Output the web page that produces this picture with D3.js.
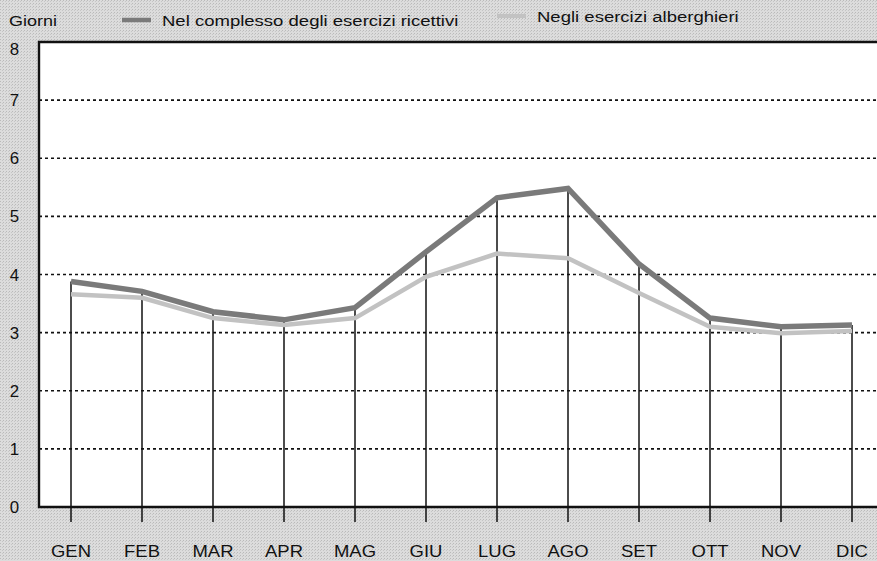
<!DOCTYPE html>
<html><head><meta charset="utf-8">
<script src="https://cdn.jsdelivr.net/npm/d3@7"></script>
<style>body{margin:0;background:#d9d9d9}svg{display:block}text{font-family:"Liberation Sans",Arial,sans-serif;fill:#111}</style>
</head><body><svg id="c" width="877" height="561"></svg>
<script>
const months = ["GEN","FEB","MAR","APR","MAG","GIU","LUG","AGO","SET","OTT","NOV","DIC"];
const totalValues = [3.88,3.71,3.36,3.22,3.43,4.39,5.32,5.48,4.18,3.25,3.10,3.13];
const hotelValues = [3.66,3.60,3.25,3.13,3.25,3.96,4.36,4.28,3.68,3.10,2.99,3.03];
const yTicks = [0,1,2,3,4,5,6,7,8];
const seriesNames = ["Nel complesso degli esercizi ricettivi","Negli esercizi alberghieri"];

const svg = d3.select("#c");
const W = 877, H = 561;
const mLeft = 39, mTop = 42, mBottom = 507, mRight = 877;

// halftone-like background
const defs = svg.append("defs");
const pat = defs.append("pattern").attr("id","ht").attr("width",3).attr("height",3).attr("patternUnits","userSpaceOnUse");
pat.append("rect").attr("width",3).attr("height",3).attr("fill","#dcdcdc");
pat.append("rect").attr("x",0).attr("y",0).attr("width",1).attr("height",1).attr("fill","#bababa");
pat.append("rect").attr("x",2).attr("y",1).attr("width",1).attr("height",1).attr("fill","#c6c6c6");
svg.append("rect").attr("width",W).attr("height",H).attr("fill","url(#ht)");

const x = d3.scalePoint().domain(months).range([71,852]);
const y = d3.scaleLinear().domain([0,8]).range([mBottom, mTop]);

svg.append("rect").attr("x",mLeft).attr("y",mTop).attr("width",mRight-mLeft).attr("height",mBottom-mTop).attr("fill","#fff");

// dotted gridlines
svg.append("g").selectAll("line").data(yTicks.filter(d=>d>0&&d<8)).join("line")
  .attr("x1",mLeft).attr("x2",mRight).attr("y1",d=>y(d)).attr("y2",d=>y(d))
  .attr("stroke","#111").attr("stroke-width",1.6).attr("stroke-dasharray","3,3");

// vertical drop lines from top series to below axis
svg.append("g").selectAll("line").data(months).join("line")
  .attr("x1",d=>x(d)).attr("x2",d=>x(d))
  .attr("y1",(d,i)=>y(Math.max(totalValues[i],hotelValues[i])))
  .attr("y2",mBottom+15)
  .attr("stroke","#111").attr("stroke-width",1.5);

// frame
svg.append("path").attr("d",`M${mRight},${mTop}H${mLeft}V${mBottom}H${mRight}`)
  .attr("fill","none").attr("stroke","#111").attr("stroke-width",2.4);

const line = d3.line().x((d,i)=>x(months[i])).y(d=>y(d));
svg.append("path").datum(hotelValues).attr("d",line).attr("fill","none")
  .attr("stroke","#c2c2c2").attr("stroke-width",4.5).attr("stroke-linejoin","miter");
svg.append("path").datum(totalValues).attr("d",line).attr("fill","none")
  .attr("stroke","#7a7a7a").attr("stroke-width",5.5).attr("stroke-linejoin","miter");

function txt(g, tx, ty, s, size, sx, anchor){
  return g.append("text").attr("transform",`translate(${tx},${ty}) scale(${sx},1)`)
    .attr("font-size",size).attr("text-anchor",anchor||"start").text(s);
}
// y labels
const gy = svg.append("g");
yTicks.forEach(d=>txt(gy, 14.5, Math.max(y(d),48.5)+6, d, 16, 1.05, "middle"));
// x labels
const gx = svg.append("g");
months.forEach(m=>txt(gx, x(m), 557, m, 16.5, 1.12, "middle"));

txt(svg, 9, 26, "Giorni", 15, 1.2);

// legend
const leg = [{x:122,c:"#7a7a7a",w:4.5,sy:20,tx:162,ty:26},{x:497,c:"#c2c2c2",w:4,sy:16,tx:537,ty:22}];
leg.forEach((l,i)=>{
  svg.append("line").attr("x1",l.x).attr("x2",l.x+29).attr("y1",l.sy).attr("y2",l.sy).attr("stroke",l.c).attr("stroke-width",l.w);
  txt(svg, l.tx, l.ty, seriesNames[i], 15, 1.235);
});
</script></body></html>
